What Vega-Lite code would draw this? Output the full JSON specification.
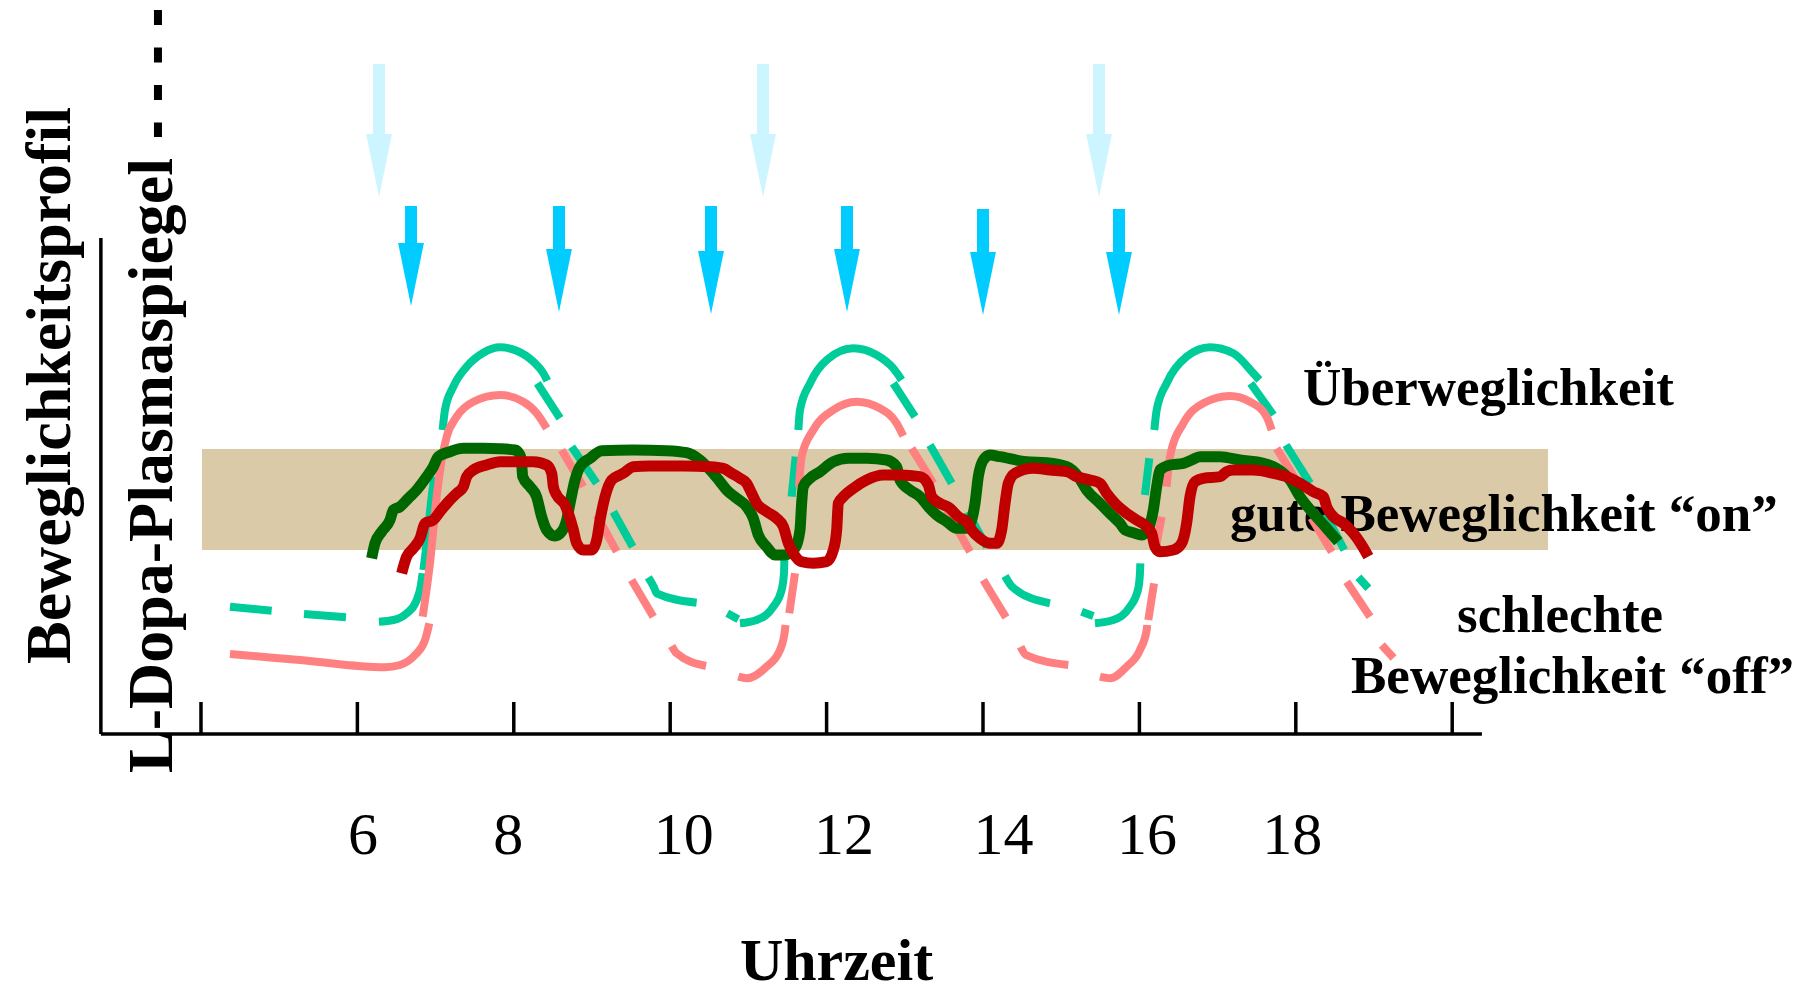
{
  "$schema": "https://vega.github.io/schema/vega-lite/v6.json",
  "width": 1816,
  "height": 734,
  "autosize": {"type": "none"},
  "padding": {"left": 0, "top": 0, "right": 0, "bottom": 261},
  "background": "white",
  "config": {"view": {"stroke": null}},
  "datasets": {
    "curves": [
      {"curve":"A","seg":"A1","t":4.371,"v":12.73},{"curve":"A","seg":"A1","t":4.904,"v":12.33},
      {"curve":"A","seg":"A2","t":5.317,"v":12.0},{"curve":"A","seg":"A2","t":5.854,"v":11.67},
      {"curve":"A","seg":"A3","t":6.276,"v":11.23},{"curve":"A","seg":"A3","t":6.46,"v":11.4},{"curve":"A","seg":"A3","t":6.63,"v":12.07},{"curve":"A","seg":"A3","t":6.749,"v":13.23},{"curve":"A","seg":"A3","t":6.809,"v":14.73},{"curve":"A","seg":"A3","t":6.835,"v":16.07},
      {"curve":"A","seg":"A4","t":6.845,"v":16.4},{"curve":"A","seg":"A4","t":6.886,"v":19.07},{"curve":"A","seg":"A4","t":6.95,"v":23.73},{"curve":"A","seg":"A4","t":6.984,"v":25.73},
      {"curve":"A","seg":"A5","t":7.09,"v":30.4},{"curve":"A","seg":"A5","t":7.12,"v":32.4},{"curve":"A","seg":"A5","t":7.227,"v":34.73},{"curve":"A","seg":"A5","t":7.397,"v":36.73},{"curve":"A","seg":"A5","t":7.611,"v":38.13},{"curve":"A","seg":"A5","t":7.824,"v":38.67},{"curve":"A","seg":"A5","t":8.037,"v":38.33},{"curve":"A","seg":"A5","t":8.25,"v":37.23},{"curve":"A","seg":"A5","t":8.378,"v":36.07},{"curve":"A","seg":"A5","t":8.429,"v":35.33},
      {"curve":"A","seg":"A6","t":8.301,"v":35.07},{"curve":"A","seg":"A6","t":8.591,"v":31.57},
      {"curve":"A","seg":"A7","t":8.74,"v":28.73},{"curve":"A","seg":"A7","t":9.06,"v":25.07},
      {"curve":"A","seg":"A8","t":9.273,"v":22.23},{"curve":"A","seg":"A8","t":9.52,"v":18.73},
      {"curve":"A","seg":"A9","t":9.72,"v":15.67},{"curve":"A","seg":"A9","t":9.793,"v":14.67},{"curve":"A","seg":"A9","t":9.827,"v":14.07},{"curve":"A","seg":"A9","t":10.338,"v":13.13},
      {"curve":"A","seg":"A10","t":10.73,"v":12.07},{"curve":"A","seg":"A10","t":10.871,"v":11.47},
      {"curve":"A","seg":"A11","t":10.892,"v":11.07},{"curve":"A","seg":"A11","t":11.106,"v":11.4},{"curve":"A","seg":"A11","t":11.319,"v":12.73},{"curve":"A","seg":"A11","t":11.425,"v":14.4},{"curve":"A","seg":"A11","t":11.455,"v":16.07},{"curve":"A","seg":"A11","t":11.46,"v":17.4},
      {"curve":"A","seg":"A12","t":11.553,"v":23.73},{"curve":"A","seg":"A12","t":11.604,"v":27.73},
      {"curve":"A","seg":"A13","t":11.639,"v":30.4},{"curve":"A","seg":"A13","t":11.66,"v":32.4},{"curve":"A","seg":"A13","t":11.788,"v":35.07},{"curve":"A","seg":"A13","t":12.001,"v":37.4},{"curve":"A","seg":"A13","t":12.342,"v":38.57},{"curve":"A","seg":"A13","t":12.64,"v":37.9},{"curve":"A","seg":"A13","t":12.853,"v":36.57},{"curve":"A","seg":"A13","t":12.96,"v":35.4},
      {"curve":"A","seg":"A14","t":12.853,"v":35.07},{"curve":"A","seg":"A14","t":13.131,"v":31.73},
      {"curve":"A","seg":"A15","t":13.322,"v":28.9},{"curve":"A","seg":"A15","t":13.6,"v":25.07},
      {"curve":"A","seg":"A16","t":13.8,"v":22.2},{"curve":"A","seg":"A16","t":14.05,"v":18.7},
      {"curve":"A","seg":"A17","t":14.281,"v":15.8},{"curve":"A","seg":"A17","t":14.379,"v":14.67},{"curve":"A","seg":"A17","t":14.856,"v":13.07},
      {"curve":"A","seg":"A18","t":15.261,"v":12.23},{"curve":"A","seg":"A18","t":15.411,"v":11.8},
      {"curve":"A","seg":"A19","t":15.432,"v":11.07},{"curve":"A","seg":"A19","t":15.666,"v":11.4},{"curve":"A","seg":"A19","t":15.88,"v":12.73},{"curve":"A","seg":"A19","t":15.986,"v":14.57},{"curve":"A","seg":"A19","t":16.007,"v":16.07},{"curve":"A","seg":"A19","t":16.012,"v":17.07},
      {"curve":"A","seg":"A20","t":16.071,"v":23.9},{"curve":"A","seg":"A20","t":16.127,"v":27.57},
      {"curve":"A","seg":"A21","t":16.191,"v":30.4},{"curve":"A","seg":"A21","t":16.221,"v":32.4},{"curve":"A","seg":"A21","t":16.348,"v":35.07},{"curve":"A","seg":"A21","t":16.604,"v":37.73},{"curve":"A","seg":"A21","t":16.903,"v":38.67},{"curve":"A","seg":"A21","t":17.201,"v":38.07},{"curve":"A","seg":"A21","t":17.457,"v":36.07},{"curve":"A","seg":"A21","t":17.534,"v":35.4},
      {"curve":"A","seg":"A22","t":17.423,"v":35.07},{"curve":"A","seg":"A22","t":17.713,"v":31.9},
      {"curve":"A","seg":"A23","t":17.875,"v":28.9},{"curve":"A","seg":"A23","t":18.182,"v":25.07},
      {"curve":"A","seg":"A24","t":18.38,"v":22.0},{"curve":"A","seg":"A24","t":18.62,"v":18.4},
      {"curve":"A","seg":"A25","t":18.8,"v":15.67},{"curve":"A","seg":"A25","t":18.928,"v":14.57},

      {"curve":"B","seg":"B1","t":4.371,"v":8.0},{"curve":"B","seg":"B1","t":5.266,"v":7.4},{"curve":"B","seg":"B1","t":6.353,"v":6.67},{"curve":"B","seg":"B1","t":6.545,"v":6.9},{"curve":"B","seg":"B1","t":6.737,"v":7.9},{"curve":"B","seg":"B1","t":6.865,"v":9.4},{"curve":"B","seg":"B1","t":6.92,"v":11.07},
      {"curve":"B","seg":"B2","t":6.835,"v":11.73},{"curve":"B","seg":"B2","t":6.928,"v":17.07},{"curve":"B","seg":"B2","t":7.014,"v":23.73},{"curve":"B","seg":"B2","t":7.078,"v":27.4},{"curve":"B","seg":"B2","t":7.142,"v":29.73},{"curve":"B","seg":"B2","t":7.27,"v":31.73},{"curve":"B","seg":"B2","t":7.483,"v":33.23},{"curve":"B","seg":"B2","t":7.824,"v":33.9},{"curve":"B","seg":"B2","t":8.122,"v":33.23},{"curve":"B","seg":"B2","t":8.293,"v":32.07},{"curve":"B","seg":"B2","t":8.421,"v":30.57},
      {"curve":"B","seg":"B3","t":8.612,"v":28.4},{"curve":"B","seg":"B3","t":8.889,"v":24.73},
      {"curve":"B","seg":"B4","t":9.06,"v":21.9},{"curve":"B","seg":"B4","t":9.316,"v":18.23},
      {"curve":"B","seg":"B5","t":9.507,"v":15.4},{"curve":"B","seg":"B5","t":9.784,"v":11.73},
      {"curve":"B","seg":"B6","t":10.019,"v":8.8},{"curve":"B","seg":"B6","t":10.082,"v":8.07},{"curve":"B","seg":"B6","t":10.458,"v":6.8},
      {"curve":"B","seg":"B7","t":10.871,"v":5.73},{"curve":"B","seg":"B7","t":10.978,"v":5.57},{"curve":"B","seg":"B7","t":11.233,"v":6.73},{"curve":"B","seg":"B7","t":11.404,"v":8.4},{"curve":"B","seg":"B7","t":11.468,"v":10.4},{"curve":"B","seg":"B7","t":11.475,"v":10.9},
      {"curve":"B","seg":"B8","t":11.523,"v":12.07},{"curve":"B","seg":"B8","t":11.596,"v":16.07},
      {"curve":"B","seg":"B9","t":11.647,"v":24.73},{"curve":"B","seg":"B9","t":11.681,"v":27.73},{"curve":"B","seg":"B9","t":11.83,"v":30.4},{"curve":"B","seg":"B9","t":12.086,"v":32.4},{"curve":"B","seg":"B9","t":12.384,"v":33.23},{"curve":"B","seg":"B9","t":12.683,"v":32.57},{"curve":"B","seg":"B9","t":12.896,"v":31.07},{"curve":"B","seg":"B9","t":12.981,"v":29.8},
      {"curve":"B","seg":"B10","t":13.088,"v":28.57},{"curve":"B","seg":"B10","t":13.365,"v":25.07},
      {"curve":"B","seg":"B11","t":13.536,"v":22.4},{"curve":"B","seg":"B11","t":13.834,"v":18.23},
      {"curve":"B","seg":"B12","t":14.004,"v":15.4},{"curve":"B","seg":"B12","t":14.294,"v":11.67},
      {"curve":"B","seg":"B13","t":14.481,"v":8.73},{"curve":"B","seg":"B13","t":14.55,"v":7.9},{"curve":"B","seg":"B13","t":15.091,"v":6.9},
      {"curve":"B","seg":"B14","t":15.496,"v":5.73},{"curve":"B","seg":"B14","t":15.624,"v":5.57},{"curve":"B","seg":"B14","t":15.837,"v":6.73},{"curve":"B","seg":"B14","t":16.007,"v":8.4},{"curve":"B","seg":"B14","t":16.093,"v":10.4},{"curve":"B","seg":"B14","t":16.1,"v":10.9},
      {"curve":"B","seg":"B15","t":16.114,"v":11.4},{"curve":"B","seg":"B15","t":16.187,"v":15.07},
      {"curve":"B","seg":"B16","t":16.212,"v":18.73},{"curve":"B","seg":"B16","t":16.285,"v":21.73},
      {"curve":"B","seg":"B17","t":16.348,"v":24.73},{"curve":"B","seg":"B17","t":16.391,"v":27.73},{"curve":"B","seg":"B17","t":16.562,"v":31.07},{"curve":"B","seg":"B17","t":16.817,"v":33.07},{"curve":"B","seg":"B17","t":17.158,"v":33.8},{"curve":"B","seg":"B17","t":17.414,"v":33.23},{"curve":"B","seg":"B17","t":17.627,"v":31.73},{"curve":"B","seg":"B17","t":17.691,"v":30.4},
      {"curve":"B","seg":"B18","t":17.755,"v":28.57},{"curve":"B","seg":"B18","t":18.054,"v":24.73},
      {"curve":"B","seg":"B19","t":18.2,"v":21.6},{"curve":"B","seg":"B19","t":18.46,"v":18.2},
      {"curve":"B","seg":"B20","t":18.651,"v":15.23},{"curve":"B","seg":"B20","t":18.949,"v":11.73},
      {"curve":"B","seg":"B21","t":19.1,"v":8.9},{"curve":"B","seg":"B21","t":19.25,"v":7.6},

      {"curve":"C","seg":"C","t":6.182,"v":17.57},{"curve":"C","seg":"C","t":6.225,"v":19.07},{"curve":"C","seg":"C","t":6.31,"v":20.23},{"curve":"C","seg":"C","t":6.417,"v":21.4},{"curve":"C","seg":"C","t":6.46,"v":22.4},{"curve":"C","seg":"C","t":6.545,"v":22.73},{"curve":"C","seg":"C","t":6.651,"v":23.57},{"curve":"C","seg":"C","t":6.758,"v":24.4},{"curve":"C","seg":"C","t":6.886,"v":25.73},{"curve":"C","seg":"C","t":6.971,"v":26.73},{"curve":"C","seg":"C","t":7.035,"v":27.73},{"curve":"C","seg":"C","t":7.184,"v":28.23},{"curve":"C","seg":"C","t":7.355,"v":28.57},{"curve":"C","seg":"C","t":7.611,"v":28.57},{"curve":"C","seg":"C","t":7.824,"v":28.53},{"curve":"C","seg":"C","t":8.016,"v":28.4},{"curve":"C","seg":"C","t":8.079,"v":27.9},{"curve":"C","seg":"C","t":8.101,"v":27.07},{"curve":"C","seg":"C","t":8.114,"v":25.73},{"curve":"C","seg":"C","t":8.207,"v":24.73},{"curve":"C","seg":"C","t":8.292,"v":23.73},{"curve":"C","seg":"C","t":8.356,"v":21.73},{"curve":"C","seg":"C","t":8.42,"v":20.4},{"curve":"C","seg":"C","t":8.527,"v":19.8},{"curve":"C","seg":"C","t":8.612,"v":20.23},{"curve":"C","seg":"C","t":8.676,"v":21.4},{"curve":"C","seg":"C","t":8.719,"v":23.07},{"curve":"C","seg":"C","t":8.783,"v":25.4},{"curve":"C","seg":"C","t":8.847,"v":26.73},{"curve":"C","seg":"C","t":8.975,"v":27.57},{"curve":"C","seg":"C","t":9.124,"v":28.33},{"curve":"C","seg":"C","t":9.528,"v":28.4},{"curve":"C","seg":"C","t":9.955,"v":28.33},{"curve":"C","seg":"C","t":10.21,"v":28.13},{"curve":"C","seg":"C","t":10.381,"v":27.4},{"curve":"C","seg":"C","t":10.53,"v":26.23},{"curve":"C","seg":"C","t":10.637,"v":25.23},{"curve":"C","seg":"C","t":10.722,"v":24.4},{"curve":"C","seg":"C","t":10.85,"v":23.57},{"curve":"C","seg":"C","t":10.978,"v":22.73},{"curve":"C","seg":"C","t":11.063,"v":21.57},{"curve":"C","seg":"C","t":11.127,"v":19.9},{"curve":"C","seg":"C","t":11.233,"v":18.73},{"curve":"C","seg":"C","t":11.34,"v":17.9},{"curve":"C","seg":"C","t":11.468,"v":17.9},{"curve":"C","seg":"C","t":11.596,"v":18.57},{"curve":"C","seg":"C","t":11.66,"v":20.4},{"curve":"C","seg":"C","t":11.681,"v":23.07},{"curve":"C","seg":"C","t":11.702,"v":24.73},{"curve":"C","seg":"C","t":11.788,"v":25.57},{"curve":"C","seg":"C","t":11.916,"v":26.23},{"curve":"C","seg":"C","t":12.086,"v":27.23},{"curve":"C","seg":"C","t":12.278,"v":27.57},{"curve":"C","seg":"C","t":12.512,"v":27.57},{"curve":"C","seg":"C","t":12.768,"v":27.4},{"curve":"C","seg":"C","t":12.896,"v":26.73},{"curve":"C","seg":"C","t":12.939,"v":25.4},{"curve":"C","seg":"C","t":13.067,"v":24.4},{"curve":"C","seg":"C","t":13.195,"v":23.73},{"curve":"C","seg":"C","t":13.301,"v":22.73},{"curve":"C","seg":"C","t":13.408,"v":21.9},{"curve":"C","seg":"C","t":13.536,"v":21.23},{"curve":"C","seg":"C","t":13.664,"v":20.57},{"curve":"C","seg":"C","t":13.791,"v":20.57},{"curve":"C","seg":"C","t":13.855,"v":21.4},{"curve":"C","seg":"C","t":13.898,"v":23.07},{"curve":"C","seg":"C","t":13.94,"v":25.73},{"curve":"C","seg":"C","t":14.004,"v":27.4},{"curve":"C","seg":"C","t":14.09,"v":27.9},{"curve":"C","seg":"C","t":14.217,"v":27.73},{"curve":"C","seg":"C","t":14.558,"v":27.23},{"curve":"C","seg":"C","t":14.814,"v":27.13},{"curve":"C","seg":"C","t":15.07,"v":26.73},{"curve":"C","seg":"C","t":15.219,"v":25.73},{"curve":"C","seg":"C","t":15.325,"v":24.4},{"curve":"C","seg":"C","t":15.496,"v":23.07},{"curve":"C","seg":"C","t":15.666,"v":21.73},{"curve":"C","seg":"C","t":15.752,"v":21.07},{"curve":"C","seg":"C","t":15.816,"v":20.4},{"curve":"C","seg":"C","t":15.922,"v":20.13},{"curve":"C","seg":"C","t":16.029,"v":19.9},{"curve":"C","seg":"C","t":16.093,"v":20.23},{"curve":"C","seg":"C","t":16.178,"v":22.4},{"curve":"C","seg":"C","t":16.221,"v":24.73},{"curve":"C","seg":"C","t":16.263,"v":26.4},{"curve":"C","seg":"C","t":16.391,"v":26.9},{"curve":"C","seg":"C","t":16.562,"v":27.07},{"curve":"C","seg":"C","t":16.668,"v":27.4},{"curve":"C","seg":"C","t":16.775,"v":27.73},{"curve":"C","seg":"C","t":17.031,"v":27.73},{"curve":"C","seg":"C","t":17.286,"v":27.4},{"curve":"C","seg":"C","t":17.585,"v":27.07},{"curve":"C","seg":"C","t":17.755,"v":26.57},{"curve":"C","seg":"C","t":17.926,"v":25.4},{"curve":"C","seg":"C","t":18.054,"v":23.73},{"curve":"C","seg":"C","t":18.224,"v":22.07},{"curve":"C","seg":"C","t":18.395,"v":20.57},{"curve":"C","seg":"C","t":18.544,"v":19.23},

      {"curve":"D","seg":"D","t":6.566,"v":16.07},{"curve":"D","seg":"D","t":6.63,"v":17.73},{"curve":"D","seg":"D","t":6.715,"v":18.57},{"curve":"D","seg":"D","t":6.801,"v":19.57},{"curve":"D","seg":"D","t":6.865,"v":21.07},{"curve":"D","seg":"D","t":6.971,"v":21.4},{"curve":"D","seg":"D","t":7.056,"v":22.23},{"curve":"D","seg":"D","t":7.163,"v":23.23},{"curve":"D","seg":"D","t":7.27,"v":24.07},{"curve":"D","seg":"D","t":7.355,"v":24.73},{"curve":"D","seg":"D","t":7.397,"v":25.73},{"curve":"D","seg":"D","t":7.483,"v":26.4},{"curve":"D","seg":"D","t":7.653,"v":26.9},{"curve":"D","seg":"D","t":7.824,"v":27.23},{"curve":"D","seg":"D","t":8.037,"v":27.23},{"curve":"D","seg":"D","t":8.25,"v":27.23},{"curve":"D","seg":"D","t":8.421,"v":26.9},{"curve":"D","seg":"D","t":8.485,"v":26.07},{"curve":"D","seg":"D","t":8.506,"v":24.73},{"curve":"D","seg":"D","t":8.548,"v":23.9},{"curve":"D","seg":"D","t":8.655,"v":22.9},{"curve":"D","seg":"D","t":8.698,"v":22.07},{"curve":"D","seg":"D","t":8.762,"v":20.4},{"curve":"D","seg":"D","t":8.804,"v":19.07},{"curve":"D","seg":"D","t":8.889,"v":18.4},{"curve":"D","seg":"D","t":8.996,"v":18.4},{"curve":"D","seg":"D","t":9.06,"v":19.4},{"curve":"D","seg":"D","t":9.103,"v":21.4},{"curve":"D","seg":"D","t":9.167,"v":23.73},{"curve":"D","seg":"D","t":9.252,"v":25.4},{"curve":"D","seg":"D","t":9.358,"v":25.9},{"curve":"D","seg":"D","t":9.4,"v":26.07},{"curve":"D","seg":"D","t":9.528,"v":26.73},{"curve":"D","seg":"D","t":9.741,"v":26.8},{"curve":"D","seg":"D","t":10.168,"v":26.8},{"curve":"D","seg":"D","t":10.509,"v":26.73},{"curve":"D","seg":"D","t":10.679,"v":26.57},{"curve":"D","seg":"D","t":10.786,"v":26.07},{"curve":"D","seg":"D","t":10.892,"v":25.57},{"curve":"D","seg":"D","t":10.978,"v":25.07},{"curve":"D","seg":"D","t":11.042,"v":24.07},{"curve":"D","seg":"D","t":11.106,"v":23.07},{"curve":"D","seg":"D","t":11.233,"v":22.23},{"curve":"D","seg":"D","t":11.361,"v":21.57},{"curve":"D","seg":"D","t":11.447,"v":20.73},{"curve":"D","seg":"D","t":11.511,"v":19.07},{"curve":"D","seg":"D","t":11.575,"v":18.07},{"curve":"D","seg":"D","t":11.681,"v":17.23},{"curve":"D","seg":"D","t":11.83,"v":17.07},{"curve":"D","seg":"D","t":12.001,"v":17.23},{"curve":"D","seg":"D","t":12.086,"v":18.4},{"curve":"D","seg":"D","t":12.129,"v":20.4},{"curve":"D","seg":"D","t":12.15,"v":23.07},{"curve":"D","seg":"D","t":12.214,"v":23.73},{"curve":"D","seg":"D","t":12.342,"v":24.57},{"curve":"D","seg":"D","t":12.512,"v":25.4},{"curve":"D","seg":"D","t":12.726,"v":25.9},{"curve":"D","seg":"D","t":12.939,"v":25.9},{"curve":"D","seg":"D","t":13.194,"v":25.73},{"curve":"D","seg":"D","t":13.301,"v":24.9},{"curve":"D","seg":"D","t":13.344,"v":23.73},{"curve":"D","seg":"D","t":13.45,"v":23.07},{"curve":"D","seg":"D","t":13.578,"v":22.57},{"curve":"D","seg":"D","t":13.685,"v":21.73},{"curve":"D","seg":"D","t":13.791,"v":21.23},{"curve":"D","seg":"D","t":13.855,"v":20.4},{"curve":"D","seg":"D","t":13.962,"v":19.57},{"curve":"D","seg":"D","t":14.09,"v":19.07},{"curve":"D","seg":"D","t":14.175,"v":19.07},{"curve":"D","seg":"D","t":14.239,"v":20.4},{"curve":"D","seg":"D","t":14.282,"v":23.07},{"curve":"D","seg":"D","t":14.324,"v":25.07},{"curve":"D","seg":"D","t":14.409,"v":26.07},{"curve":"D","seg":"D","t":14.643,"v":26.57},{"curve":"D","seg":"D","t":14.856,"v":26.4},{"curve":"D","seg":"D","t":15.07,"v":26.23},{"curve":"D","seg":"D","t":15.197,"v":25.73},{"curve":"D","seg":"D","t":15.368,"v":25.4},{"curve":"D","seg":"D","t":15.496,"v":25.07},{"curve":"D","seg":"D","t":15.581,"v":24.07},{"curve":"D","seg":"D","t":15.688,"v":23.07},{"curve":"D","seg":"D","t":15.837,"v":22.07},{"curve":"D","seg":"D","t":15.965,"v":21.4},{"curve":"D","seg":"D","t":16.093,"v":20.73},{"curve":"D","seg":"D","t":16.157,"v":20.07},{"curve":"D","seg":"D","t":16.199,"v":18.73},{"curve":"D","seg":"D","t":16.263,"v":18.23},{"curve":"D","seg":"D","t":16.434,"v":18.4},{"curve":"D","seg":"D","t":16.54,"v":19.07},{"curve":"D","seg":"D","t":16.604,"v":21.07},{"curve":"D","seg":"D","t":16.647,"v":23.73},{"curve":"D","seg":"D","t":16.711,"v":25.23},{"curve":"D","seg":"D","t":16.817,"v":25.57},{"curve":"D","seg":"D","t":17.031,"v":25.73},{"curve":"D","seg":"D","t":17.116,"v":26.23},{"curve":"D","seg":"D","t":17.201,"v":26.4},{"curve":"D","seg":"D","t":17.457,"v":26.4},{"curve":"D","seg":"D","t":17.713,"v":26.07},{"curve":"D","seg":"D","t":17.883,"v":25.73},{"curve":"D","seg":"D","t":18.054,"v":25.07},{"curve":"D","seg":"D","t":18.224,"v":24.23},{"curve":"D","seg":"D","t":18.352,"v":23.73},{"curve":"D","seg":"D","t":18.395,"v":22.73},{"curve":"D","seg":"D","t":18.48,"v":21.73},{"curve":"D","seg":"D","t":18.608,"v":21.07},{"curve":"D","seg":"D","t":18.736,"v":20.07},{"curve":"D","seg":"D","t":18.842,"v":18.9},{"curve":"D","seg":"D","t":18.928,"v":17.73}
    ],
    "arrows": [
      {"kind":"upper","t":6.277,"v":67.0,"v2":59.6,"tip":53.7},
      {"kind":"upper","t":11.187,"v":67.0,"v2":59.6,"tip":53.7},
      {"kind":"upper","t":15.484,"v":67.0,"v2":59.6,"tip":53.7},
      {"kind":"lower","t":6.686,"v":52.8,"v2":48.9,"tip":42.8},
      {"kind":"lower","t":8.578,"v":52.8,"v2":48.2,"tip":42.2},
      {"kind":"lower","t":10.522,"v":52.8,"v2":47.9,"tip":42.0},
      {"kind":"lower","t":12.261,"v":52.8,"v2":48.2,"tip":42.2},
      {"kind":"lower","t":14.0,"v":52.5,"v2":47.9,"tip":41.9},
      {"kind":"lower","t":15.739,"v":52.5,"v2":47.9,"tip":41.9}
    ],
    "verticals": [
      {"t":2.72,"v":0,"v2":49.6},
      {"t":4,"v":0,"v2":3.2},{"t":6,"v":0,"v2":3.2},{"t":8,"v":0,"v2":3.2},{"t":10,"v":0,"v2":3.2},{"t":12,"v":0,"v2":3.2},{"t":14,"v":0,"v2":3.2},{"t":16,"v":0,"v2":3.2},{"t":18,"v":0,"v2":3.2},{"t":20,"v":0,"v2":3.2}
    ],
    "labels": [
      {"label":"Überweglichkeit","t":18.092,"v":32.9},
      {"label":"gute Beweglichkeit “on”","t":17.159,"v":20.3},
      {"label":"schlechte","t":20.062,"v":10.2},
      {"label":"Beweglichkeit “off”","t":18.706,"v":4.1}
    ],
    "titles": [
      {"label":"Beweglichkeitsprofil","t":2.325,"v":34.85},
      {"label":"L-Dopa-Plasmaspiegel","t":3.629,"v":26.85}
    ]
  },
  "encoding": {
    "x": {
      "field": "t", "type": "quantitative",
      "scale": {"domain": [1.43, 24.652], "nice": false, "zero": false},
      "axis": {
        "values": [6, 8, 10, 12, 14, 16, 18],
        "domain": false, "ticks": false, "grid": false,
        "labelFont": "Liberation Serif", "labelFontSize": 60, "labelColor": "black",
        "labelPadding": 119, "labelBaseline": "alphabetic",
        "labelFlush": false, "labelOverlap": false, "labelBound": false,
        "labelOffset": {"condition": [
          {"test": "datum.value == 6", "value": 5},
          {"test": "datum.value == 8", "value": -6},
          {"test": "datum.value == 10", "value": 13},
          {"test": "datum.value == 12", "value": 17},
          {"test": "datum.value == 14", "value": 20},
          {"test": "datum.value == 16", "value": 7},
          {"test": "datum.value == 18", "value": -4}
        ], "value": 0},
        "title": "Uhrzeit",
        "titleFont": "Liberation Serif", "titleFontSize": 60, "titleFontWeight": "bold", "titleColor": "black",
        "titleX": 836, "titleY": 245, "titleBaseline": "alphabetic", "titleAlign": "center"
      }
    },
    "y": {
      "field": "v", "type": "quantitative",
      "scale": {"domain": [0, 73.4], "nice": false, "zero": false},
      "axis": null
    }
  },
  "layer": [
    {
      "data": {"values": [{"zone": "on", "t": 4.013, "t2": 21.225, "v": 18.4, "v2": 28.5}]},
      "mark": {"type": "rect", "fill": "#dacaa8", "stroke": null},
      "encoding": {"x2": {"field": "t2"}, "y2": {"field": "v2"}}
    },
    {
      "data": {"name": "labels"},
      "mark": {"type": "text", "align": "left", "baseline": "alphabetic", "font": "Liberation Serif", "fontWeight": "bold", "fontSize": 53, "color": "black"},
      "encoding": {"text": {"field": "label"}}
    },
    {
      "data": {"name": "titles"},
      "mark": {"type": "text", "align": "center", "baseline": "alphabetic", "angle": 270, "font": "Liberation Serif", "fontWeight": "bold", "fontSize": 64, "color": "black"},
      "encoding": {"text": {"field": "label"}}
    },
    {
      "data": {"values": [{"t": 3.45, "v": 72.4, "v2": 59.7}]},
      "mark": {"type": "rule", "color": "black", "strokeWidth": 8, "strokeDash": [15, 22.5], "strokeCap": "butt"},
      "encoding": {"y2": {"field": "v2"}}
    },
    {
      "data": {"name": "curves"},
      "transform": [{"filter": "datum.curve == 'A'"}],
      "mark": {"type": "line", "interpolate": "monotone", "stroke": "#00CC99", "strokeWidth": 8, "strokeCap": "butt"},
      "encoding": {"detail": {"field": "seg"}}
    },
    {
      "data": {"name": "curves"},
      "transform": [{"filter": "datum.curve == 'B'"}],
      "mark": {"type": "line", "interpolate": "monotone", "stroke": "#FF8080", "strokeWidth": 8, "strokeCap": "butt"},
      "encoding": {"detail": {"field": "seg"}}
    },
    {
      "data": {"name": "curves"},
      "transform": [{"filter": "datum.curve == 'C'"}],
      "mark": {"type": "line", "interpolate": "monotone", "stroke": "#006600", "strokeWidth": 11, "strokeCap": "butt", "strokeJoin": "round"},
      "encoding": {"detail": {"field": "seg"}}
    },
    {
      "data": {"name": "curves"},
      "transform": [{"filter": "datum.curve == 'D'"}],
      "mark": {"type": "line", "interpolate": "monotone", "stroke": "#C00000", "strokeWidth": 11, "strokeCap": "butt", "strokeJoin": "round"},
      "encoding": {"detail": {"field": "seg"}}
    },
    {
      "data": {"name": "arrows"},
      "mark": {"type": "rule", "strokeWidth": 12, "strokeCap": "butt"},
      "encoding": {
        "y2": {"field": "v2"},
        "color": {"field": "kind", "type": "nominal", "scale": {"domain": ["upper", "lower"], "range": ["#CCF5FF", "#00CCFF"]}, "legend": null}
      }
    },
    {
      "data": {"name": "arrows"},
      "mark": {"type": "point", "shape": "M-0.41,-2L0.41,-2L0,0Z", "size": 3969, "filled": true, "opacity": 1, "strokeWidth": 0},
      "encoding": {
        "y": {"field": "tip", "type": "quantitative", "scale": {"domain": [0, 73.4], "nice": false, "zero": false}, "axis": null},
        "color": {"field": "kind", "type": "nominal", "scale": {"domain": ["upper", "lower"], "range": ["#CCF5FF", "#00CCFF"]}, "legend": null}
      }
    },
    {
      "data": {"name": "verticals"},
      "mark": {"type": "rule", "color": "black", "strokeWidth": 3.5},
      "encoding": {"y2": {"field": "v2"}}
    },
    {
      "data": {"values": [{"t": 2.72, "t2": 20.38, "v": 0}]},
      "mark": {"type": "rule", "color": "black", "strokeWidth": 3.5},
      "encoding": {"x2": {"field": "t2"}}
    }
  ]
}
